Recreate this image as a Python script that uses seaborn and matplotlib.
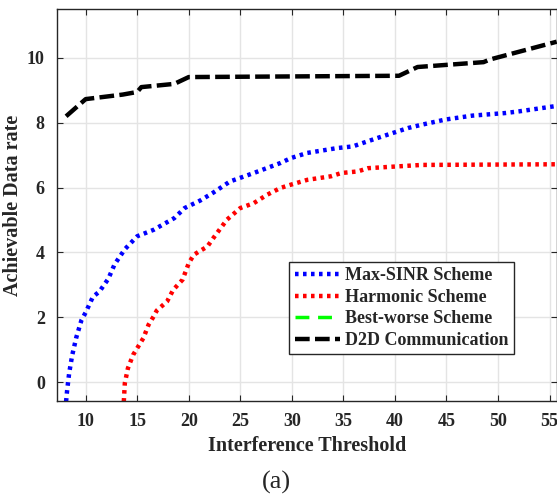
import matplotlib
matplotlib.use("Agg")
import matplotlib.pyplot as plt
import seaborn as sns

blue_x = [8.1, 8.2, 8.4, 8.7, 9.1, 9.6, 10.0, 10.7, 11.35, 12.2, 12.8, 13.8, 15.0, 16.6, 18.6, 19.6,
          21.1, 22.4, 24.0, 26.3, 28.9, 29.9, 31.5, 34.4, 35.9, 38.3, 41.3, 42.6, 44.9, 47.5, 50.7, 52.0, 55.7]
blue_y = [-0.6, -0.26, 0.28, 0.84, 1.39, 1.92, 2.15, 2.63, 2.8, 3.19, 3.63, 4.1, 4.5, 4.7, 5.06, 5.37,
          5.6, 5.85, 6.19, 6.45, 6.76, 6.91, 7.07, 7.22, 7.27, 7.53, 7.84, 7.94, 8.10, 8.22, 8.30, 8.35, 8.52]

red_x = [13.7, 13.8, 14.1, 14.6, 15.1, 15.6, 16.1, 16.6, 16.9, 17.9, 18.5, 19.4, 20.0, 20.5, 21.1, 21.8,
         22.4, 23.7, 25.0, 26.3, 27.6, 28.9, 29.9, 31.5, 33.8, 34.8, 36.4, 37.4, 40.0, 42.6, 55.7]
red_y = [-0.6, -0.03, 0.43, 0.84, 1.1, 1.36, 1.77, 2.03, 2.21, 2.49, 2.85, 3.16, 3.67, 3.93, 4.05, 4.18,
         4.45, 5.01, 5.37, 5.52, 5.78, 5.99, 6.09, 6.24, 6.35, 6.45, 6.5, 6.6, 6.65, 6.7, 6.72]

green_x = []
green_y = []

d2d_x = [8.1, 10.0, 13.6, 15.0, 15.4, 18.6, 20.0, 40.4, 42.2, 48.6, 49.2, 55.7]
d2d_y = [8.2, 8.73, 8.87, 8.95, 9.1, 9.2, 9.41, 9.45, 9.72, 9.87, 9.95, 10.5]

labels = ["Max-SINR Scheme", "Harmonic Scheme", "Best-worse Scheme", "D2D Communication"]
x_ticks = [10, 15, 20, 25, 30, 35, 40, 45, 50, 55]
y_ticks = [0, 2, 4, 6, 8, 10]

sns.set_theme(style="whitegrid")
plt.rcParams['font.family'] = ['Liberation Serif', 'DejaVu Serif']
plt.rcParams['font.weight'] = 'bold'

fig = plt.figure(figsize=(5.57, 4.97), dpi=100)
ax = fig.add_axes([0.1029, 0.1932, 0.8966, 0.7881])

lw = 3.2
sns.lineplot(x=blue_x, y=blue_y, ax=ax, color="#0000ff", lw=lw, linestyle=(0, (0.8, 1.0)),
             label=labels[0], sort=False)
sns.lineplot(x=red_x, y=red_y, ax=ax, color="#ff0000", lw=lw, linestyle=(0, (0.8, 1.0)),
             label=labels[1], sort=False)
ax.plot(green_x, green_y, color="#00ff00", lw=2.5, linestyle=(0, (4, 2.5)), label=labels[2])
sns.lineplot(x=d2d_x, y=d2d_y, ax=ax, color="black", lw=lw, linestyle=(0, (3.3, 1.2)),
             label=labels[3], sort=False)

ax.set_xlim(7.25, 55.7)
ax.set_ylim(-0.58, 11.5)
ax.set_xticks(x_ticks)
ax.set_yticks(y_ticks)
ax.set_facecolor("white")
ax.grid(True, color="#e4e4e4", lw=1.0)
for s in ax.spines.values():
    s.set_color("#262626")
    s.set_linewidth(1.0)
    s.set_visible(True)
ax.tick_params(direction="in", length=4, width=0.8, color="#262626", top=True, right=True,
               labelsize=13, pad=9, bottom=True, left=True)
for t in ax.get_xticklabels() + ax.get_yticklabels():
    t.set_fontweight("bold")
    t.set_color("#262626")

ax.set_xlabel("Interference Threshold", fontsize=14.5, fontweight="bold", color="#262626", labelpad=4)
ax.set_ylabel("Achievable Data rate", fontsize=14.5, fontweight="bold", color="#262626")
ax.yaxis.set_label_coords(-0.068, 0.5)

leg = ax.legend(loc="lower left", bbox_to_anchor=(0.4646, 0.119), fontsize=13, handlelength=2.5,
                borderpad=0.3, labelspacing=0.25, handletextpad=0.3, frameon=True, fancybox=False,
                framealpha=1, edgecolor="#262626", borderaxespad=0)
leg.get_frame().set_linewidth(1.0)
for t in leg.get_texts():
    t.set_fontweight("bold")
    t.set_color("#262626")

fig.text(0.497, 0.006, "(a)", fontsize=19, fontweight="normal", ha="center", va="bottom", color="#262626")

fig.savefig("out.png", dpi=100)
